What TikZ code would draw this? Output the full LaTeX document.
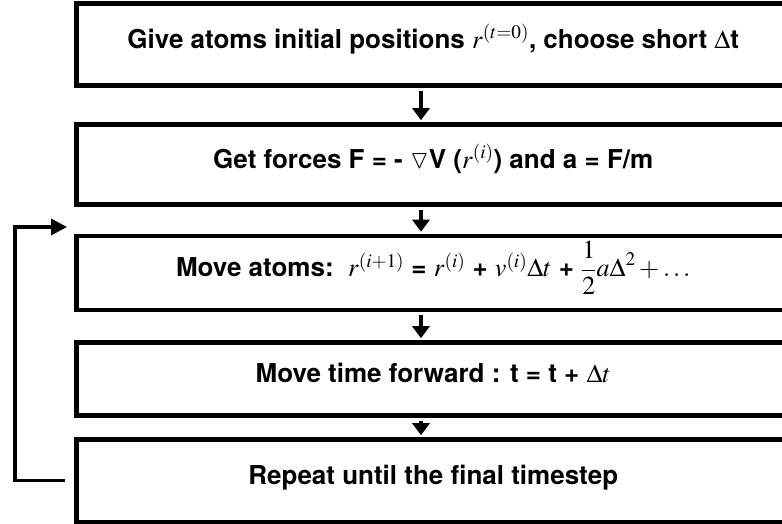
\documentclass[tikz,border=0pt]{standalone}
\usepackage{amssymb}
\usepackage{mathptmx}
\usepackage[no-math]{fontspec}
\setsansfont{TeX Gyre Heros}
\usetikzlibrary{positioning,calc,arrows.meta}

\begin{document}
\begin{tikzpicture}[
		x=1pt,
		y=1pt,
		>=Triangle,
		font=\sffamily\bfseries\fontsize{26}{30}\selectfont,
		stepbox/.style={
			draw=black,
			line width=4.5pt,
			fill=white,
			minimum width=713.5pt,
			inner sep=0pt,
			text height=1.0em,
			text depth=0.28em
		},
		arrow/.style={-{Triangle[length=12pt,width=17pt]}, line width=3.5pt, shorten <=3pt, shorten >=2pt},
		looparrow/.style={-{Triangle[length=16pt,width=16pt]}, line width=3.5pt}
	]
	
	% Canvas
	\useasboundingbox (0,0) rectangle (782,524);
	
	% Steps
	\node[stepbox, minimum height=82pt] (init) at (433.25,479.5)
	{Give atoms initial positions $r^{(t=0)}$, choose short $\Delta$t};
	\node[stepbox, minimum height=80pt] (forces) at (433.25,359.5)
	{Get forces F = - $\triangledown$V ($r^{(i)}$) and a = F/m};
	\node[stepbox, minimum height=74pt] (move) at (433.25,251)
	{Move atoms:\ \ $r^{(i+1)}$ = $r^{(i)}$ + $v^{(i)}\Delta t$ + $\displaystyle\frac{1}{2}a\Delta^2+\ldots$};
	\node[stepbox, minimum height=73pt] (advance) at (433.25,145)
	{Move time forward : t = t + $\Delta t$};
	\node[stepbox, minimum height=82.5pt] (repeat) at (433.25,43.25)
	{Repeat until the final timestep};
	
	% Arrows
	\coordinate (ax) at (421,0);
	\draw[arrow] (init.south -| ax) -- (forces.north -| ax);
	\draw[arrow] (forces.south -| ax) -- (move.north -| ax);
	\draw[arrow] (move.south -| ax) -- (advance.north -| ax);
	\draw[arrow] (advance.south -| ax) -- (repeat.north -| ax);
	
	% Loop back
	\coordinate (loopcorner) at (15,297);
	\coordinate (looptip) at (67,297);
	\draw[looparrow, shorten <=9pt] (repeat.west) -| (loopcorner) -- (looptip);
	
\end{tikzpicture}
\end{document}
